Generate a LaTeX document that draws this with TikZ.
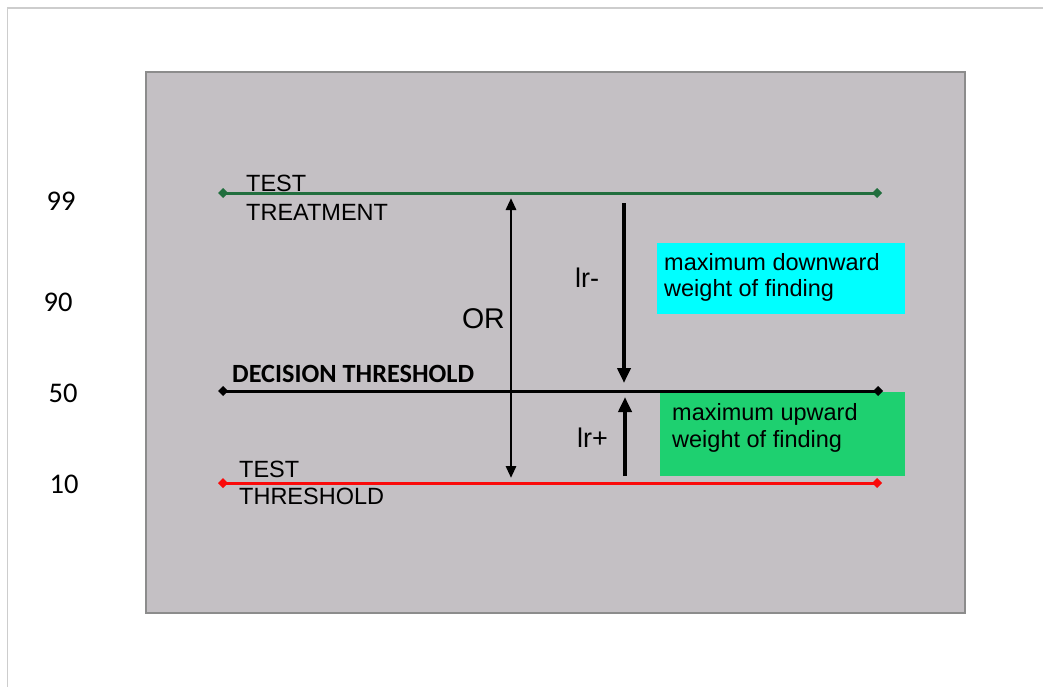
\documentclass[tikz,border=0pt]{standalone}
\usepackage{fontspec}
\setmainfont{Liberation Sans}
\newfontfamily\calfont{Carlito}
\usetikzlibrary{arrows.meta}
\definecolor{panelgray}{RGB}{196,192,196}
\definecolor{panelborder}{RGB}{140,140,140}
\definecolor{framegray}{RGB}{205,205,205}
\definecolor{treatgreen}{RGB}{33,110,62}
\definecolor{testred}{RGB}{250,10,10}
\definecolor{boxcyan}{RGB}{0,255,255}
\definecolor{boxgreen}{RGB}{30,208,112}
\tikzset{
  level/.style={line width=3pt,{Diamond[length=10pt,width=10pt]}-{Diamond[length=10pt,width=10pt]}},
  thinarrow/.style={line width=2.8pt,{Triangle[length=12pt,width=10pt]}-{Triangle[length=12pt,width=10pt]}},
  thickarrow/.style={line width=4.2pt,-{Triangle[length=15pt,width=13pt]}},
  lbl/.style={inner sep=0pt,anchor=base west,font=\fontsize{23.5}{26}\selectfont},
  boxtext/.style={inner sep=0pt,anchor=base west,font=\fontsize{23.5}{26}\selectfont},
  num/.style={inner sep=0pt,anchor=base,font=\calfont\fontsize{28.5}{30}\selectfont},
  infobox/.style={inner sep=0pt,anchor=north west},
}
\begin{document}
\begin{tikzpicture}[x=1pt,y=-1pt]
\useasboundingbox (0,0) rectangle (1043,687);
\fill[white] (0,0) rectangle (1043,687);
% outer frame lines
\draw[framegray,line width=1.5pt] (7.5,687) -- (7.5,8) -- (1043,8);
% panel
\draw[panelborder,fill=panelgray,line width=1.2pt] (146,72) rectangle (965,613);
% info boxes
\node[infobox,fill=boxcyan,minimum width=248pt,minimum height=71pt] (down) at (657,243) {};
\node[infobox,fill=boxgreen,minimum width=245pt,minimum height=84pt] (up) at (660,392) {};
\node[boxtext] (downt1) at (664,270) {maximum downward};
\node[boxtext] (downt2) at (664,296) {weight of finding};
\node[boxtext] (upt1) at (672,420) {maximum upward};
\node[boxtext] (upt2) at (672,447) {weight of finding};
% level lines
\coordinate (g1) at (218,193); \coordinate (g2) at (882,193);
\coordinate (b1) at (218,391); \coordinate (b2) at (883,391);
\coordinate (r1) at (218,483); \coordinate (r2) at (882,483);
\draw[level,treatgreen] (g1) -- (g2);
\draw[level,black] (b1) -- (b2);
\draw[level,testred] (r1) -- (r2);
% line labels
\node[lbl] (tt1) at (246,191) {TEST};
\node[lbl] (tt2) at (246,220) {TREATMENT};
\node[lbl,font=\calfont\bfseries\fontsize{26.3}{28}\selectfont] (dt) at (232,382) {DECISION THRESHOLD};
\node[lbl] (th1) at (239,477) {TEST};
\node[lbl] (th2) at (239,504) {THRESHOLD};
% numbers
\node[num] (n99) at (61,210) {99};
\node[num] (n90) at (58,311) {90};
\node[num] (n50) at (63,402) {50};
\node[num] (n10) at (64,493) {10};
% arrows
\coordinate (ort) at (511,198); \coordinate (orb) at (511,478);
\draw[thinarrow] (ort) -- (orb);
\node[lbl,font=\fontsize{28.5}{30}\selectfont,anchor=base east] (or) at (505,328) {OR};
\coordinate (lmt) at (624,203); \coordinate (lmb) at (624,383);
\draw[thickarrow] (lmt) -- (lmb);
\node[lbl,font=\fontsize{27}{30}\selectfont] (lrm) at (575,287) {lr-};
\coordinate (lpb) at (625,476); \coordinate (lpt) at (625,397);
\draw[thickarrow] (lpb) -- (lpt);
\node[lbl,font=\fontsize{27}{30}\selectfont] (lrp) at (577,447) {lr+};
\end{tikzpicture}
\end{document}
